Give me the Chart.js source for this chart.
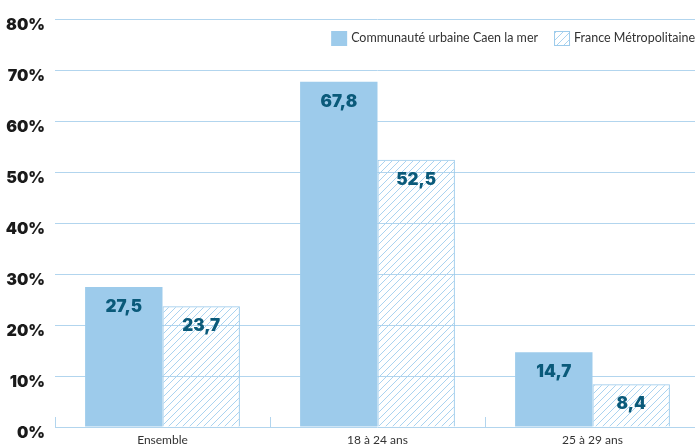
<!DOCTYPE html>
<html>
<head>
<meta charset="utf-8">
<script src="https://cdn.jsdelivr.net/npm/chart.js@4/dist/chart.umd.min.js"></script>
<style>
    html, body { margin: 0; padding: 0; background: #fff; overflow: hidden; }
    #chartBox { width: 700px; height: 448px; }
</style>
</head>
<body>
<div id="chartBox"><canvas id="chart"></canvas></div>
<script>
(function () {

    'use strict';

    // data
    const categories = ['Ensemble', '18 à 24 ans', '25 à 29 ans'];
    const caenValues = [27.5, 67.8, 14.7];
    const franceValues = [23.7, 52.5, 8.4];
    const seriesNames = ['Communauté urbaine Caen la mer', 'France Métropolitaine'];
    const yTicks = [0, 10, 20, 30, 40, 50, 60, 70, 80];

    const blue = 'rgb(157, 203, 235)';
    const hatchBlue = 'rgb(170, 211, 240)';
    const gridBlue = 'rgb(178, 213, 238)';
    const labelColor = 'rgb(10, 90, 122)';

    // diagonal hatch for the France bars
    function makeHatch() {
        let c = document.createElement('canvas');
        c.width = 7;
        c.height = 7;
        let ctx = c.getContext('2d');
        ctx.strokeStyle = hatchBlue;
        ctx.lineWidth = 1;
        ctx.beginPath();
        ctx.moveTo(0, 7);
        ctx.lineTo(7, 0);
        ctx.moveTo(-1, 1);
        ctx.lineTo(1, -1);
        ctx.moveTo(6, 8);
        ctx.lineTo(8, 6);
        ctx.stroke();
        return ctx.createPattern(c, 'repeat');
    }

    // bar values written inside the top of each bar
    const valueLabels = {
        id: 'valueLabels',
        afterDatasetsDraw(chart) {
            let ctx = chart.ctx;
            ctx.save();
            ctx.font = '900 17px Inter';
            ctx.fillStyle = labelColor;
            ctx.textAlign = 'center';
            ctx.textBaseline = 'middle';
            chart.data.datasets.forEach((ds, i) => {
                chart.getDatasetMeta(i).data.forEach((bar, j) => {
                    let txt = ds.data[j].toFixed(1).replace('.', ',');
                    ctx.fillText(txt, bar.x, bar.y + 20);
                });
            });
            ctx.restore();
        }
    };

    // little category separators rising from the baseline
    const separators = {
        id: 'separators',
        afterDraw(chart) {
            let ctx = chart.ctx;
            let x = chart.scales.x;
            let base = chart.chartArea.bottom;
            let step = (x.right - x.left) / categories.length;
            ctx.save();
            ctx.strokeStyle = gridBlue;
            ctx.lineWidth = 1;
            for (let i = 0; i < categories.length; i++) {
                let px = Math.round(x.left + i * step) + 0.5;
                ctx.beginPath();
                ctx.moveTo(px, base);
                ctx.lineTo(px, base - 10);
                ctx.stroke();
            }
            ctx.restore();
        }
    };

    // legend sitting inside the plot, top right
    const insideLegend = {
        id: 'insideLegend',
        afterDraw(chart) {
            let ctx = chart.ctx;
            ctx.save();
            ctx.font = '12.5px Lato';
            ctx.textBaseline = 'middle';
            let y = 38;
            let right = 695;
            let items = chart.data.datasets.slice().reverse();
            items.forEach((ds) => {
                let w = ctx.measureText(ds.label).width;
                let tx = right - w;
                ctx.fillStyle = '#333';
                ctx.fillText(ds.label, tx, y);
                let bx = tx - 20;
                ctx.fillStyle = ds.backgroundColor;
                ctx.fillRect(bx, y - 7, 16, 15);
                if (ds.borderWidth) {
                    ctx.strokeStyle = ds.borderColor;
                    ctx.lineWidth = 1;
                    ctx.strokeRect(bx + 0.5, y - 6.5, 15, 14);
                }
                right = bx - 16;
            });
            ctx.restore();
        }
    };

    let config = {
        type: 'bar',
        data: {
            labels: categories,
            datasets: [{
                label: seriesNames[0],
                data: caenValues,
                backgroundColor: blue,
                borderWidth: 0,
                categoryPercentage: 0.72,
                barPercentage: 1
            }, {
                label: seriesNames[1],
                data: franceValues,
                backgroundColor: makeHatch(),
                borderColor: blue,
                borderWidth: 1,
                categoryPercentage: 0.72,
                barPercentage: 1
            }]
        },
        options: {
            responsive: true,
            maintainAspectRatio: false,
            animation: false,
            layout: { padding: { top: 18, right: 0, bottom: 0, left: 0 } },
            plugins: {
                legend: { display: false },
                tooltip: { enabled: false }
            },
            scales: {
                x: {
                    afterFit: (axis) => { axis.height = 21; },
                    grid: { display: false, drawTicks: false, tickLength: 0 },
                    border: { display: false },
                    ticks: {
                        color: '#333',
                        font: { family: 'Lato', size: 12 },
                        padding: 6
                    }
                },
                y: {
                    min: 0,
                    max: 80,
                    afterFit: (axis) => { axis.width = 55; },
                    afterBuildTicks: (axis) => { axis.ticks = yTicks.map(v => ({ value: v })); },
                    grid: { color: gridBlue, lineWidth: 1, drawTicks: false },
                    border: { display: false },
                    ticks: {
                        color: '#1a1a1a',
                        font: { family: 'Inter', size: 16, weight: '900' },
                        padding: 10,
                        labelOffset: 6,
                        callback: (v) => v + '%'
                    }
                }
            }
        },
        plugins: [valueLabels, separators, insideLegend]
    };

    new Chart(document.getElementById('chart'), config);

})();
</script>
</body>
</html>
